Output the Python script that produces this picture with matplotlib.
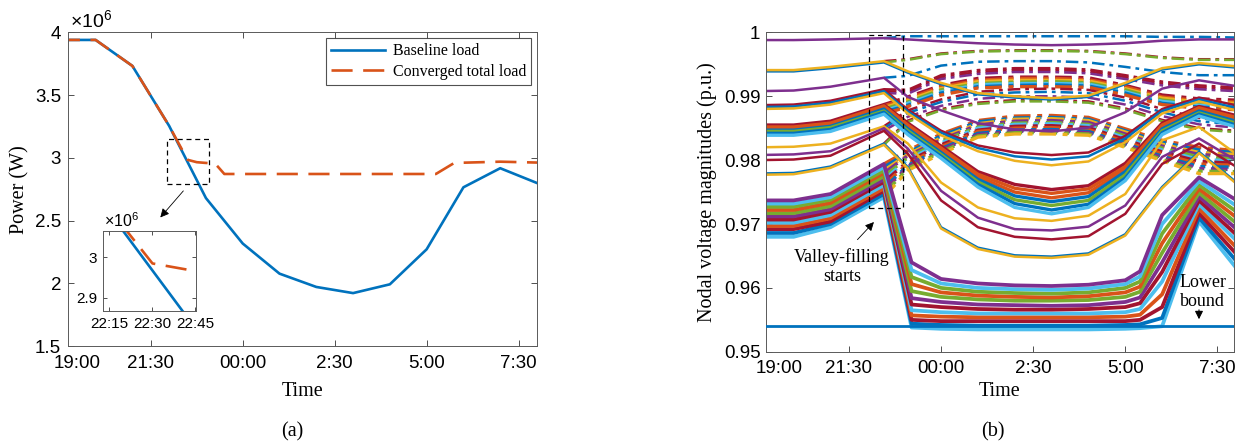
import matplotlib
matplotlib.use('Agg')
import matplotlib.pyplot as plt
from matplotlib.patches import Rectangle

# ---------------- panel (a) data (power, x1e6 W; time = hours after 19:00) ----------------
t_base = [0, 1, 2, 3, 4, 5, 6, 7, 8, 9, 10, 11, 12, 13]
baseline_load = [3.94, 3.94, 3.733, 3.255, 2.68, 2.318, 2.078, 1.972, 1.923, 1.993, 2.272, 2.766, 2.918, 2.80]
t_conv = [0, 1, 2, 3, 3.5, 3.75, 4, 4.25, 4.5, 10.25, 10.75, 12, 13]
converged_load = [3.94, 3.94, 3.733, 3.255, 2.985, 2.966, 2.96, 2.955, 2.872, 2.872, 2.96, 2.97, 2.963]
main_tick_pos = [2.5, 5, 7.5, 10, 12.5]
main_tick_labels = ['21:30', '00:00', '2:30', '5:00', '7:30']
first_label = '19:00'
inset_tick_pos = [3.25, 3.5, 3.75]
inset_tick_labels = ['22:15', '22:30', '22:45']
power_ticks = [1.5, 2, 2.5, 3, 3.5, 4]
power_tick_labels = ['1.5', '2', '2.5', '3', '3.5', '4']

# ---------------- panel (b) data (voltage, p.u.) ----------------
t_sol = [0, 1, 2, 3.45, 4.1, 5, 6, 7, 8, 9, 10, 11, 12, 13]
sol_A = [0.9988, 0.9988, 0.9989, 0.9991, 0.9989, 0.9986, 0.9983, 0.9981, 0.9980, 0.9981, 0.9983, 0.9987, 0.9989, 0.9989]
sol_B = [[0.9939, 0.9939, 0.9944, 0.9953, 0.9937, 0.9919, 0.9903, 0.9898, 0.9895, 0.9899, 0.9919, 0.9942, 0.9950, 0.9945],
         [0.9941, 0.9941, 0.9946, 0.9955, 0.9939, 0.9921, 0.9905, 0.9900, 0.9897, 0.9901, 0.9921, 0.9944, 0.9952, 0.9947]]
sol_C = [0.9908, 0.9909, 0.9915, 0.9929, 0.9899, 0.9878, 0.9858, 0.9848, 0.9845, 0.9851, 0.9875, 0.9912, 0.9925, 0.9916]
sol_D = [[0.9886, 0.9887, 0.9893, 0.9911, 0.9879, 0.9846, 0.9823, 0.9812, 0.9808, 0.9812, 0.9838, 0.9880, 0.9898, 0.9886],
         [0.9883, 0.9884, 0.9890, 0.9908, 0.9876, 0.9843, 0.9819, 0.9806, 0.9801, 0.9806, 0.9834, 0.9877, 0.9895, 0.9882],
         [0.9880, 0.9881, 0.9887, 0.9905, 0.9873, 0.9839, 0.9814, 0.9799, 0.9792, 0.9798, 0.9828, 0.9873, 0.9892, 0.9878]]
sol_E = [[0.9855, 0.9855, 0.9861, 0.9887, 0.9858, 0.9822, 0.9782, 0.9762, 0.9754, 0.9760, 0.9795, 0.9858, 0.9884, 0.9870],
         [0.9852, 0.9852, 0.9858, 0.9885, 0.9855, 0.9819, 0.9778, 0.9756, 0.9748, 0.9755, 0.9790, 0.9855, 0.9882, 0.9867],
         [0.9850, 0.9850, 0.9856, 0.9882, 0.9852, 0.9816, 0.9774, 0.9750, 0.9741, 0.9749, 0.9786, 0.9852, 0.9879, 0.9864],
         [0.9847, 0.9847, 0.9853, 0.9880, 0.9849, 0.9812, 0.9770, 0.9744, 0.9735, 0.9743, 0.9782, 0.9849, 0.9877, 0.9861],
         [0.9845, 0.9845, 0.9851, 0.9877, 0.9846, 0.9809, 0.9766, 0.9738, 0.9729, 0.9737, 0.9777, 0.9846, 0.9874, 0.9858],
         [0.9842, 0.9842, 0.9848, 0.9875, 0.9843, 0.9806, 0.9762, 0.9732, 0.9722, 0.9731, 0.9772, 0.9843, 0.9872, 0.9855],
         [0.9839, 0.9839, 0.9845, 0.9872, 0.9840, 0.9803, 0.9758, 0.9726, 0.9716, 0.9726, 0.9768, 0.9840, 0.9869, 0.9852]]
sol_F = [0.9820, 0.9821, 0.9826, 0.9853, 0.9826, 0.9765, 0.9726, 0.9709, 0.9705, 0.9713, 0.9747, 0.9831, 0.9852, 0.9810]
sol_G = [0.9808, 0.9809, 0.9814, 0.9850, 0.9818, 0.9752, 0.9710, 0.9692, 0.9690, 0.9696, 0.9729, 0.9805, 0.9834, 0.9800]
sol_H = [0.9800, 0.9801, 0.9807, 0.9846, 0.9810, 0.9737, 0.9695, 0.9680, 0.9676, 0.9681, 0.9716, 0.9794, 0.9826, 0.9790]
sol_I = [[0.9779, 0.9780, 0.9790, 0.9826, 0.9789, 0.9695, 0.9663, 0.9651, 0.9649, 0.9654, 0.9684, 0.9758, 0.9813, 0.9766],
         [0.9777, 0.9778, 0.9788, 0.9824, 0.9787, 0.9693, 0.9661, 0.9649, 0.9647, 0.9652, 0.9682, 0.9756, 0.9811, 0.9764]]

t_low = [0, 1, 2, 3.45, 4.2, 5, 6, 7, 8, 9, 10, 10.4, 11, 12, 13]
sol_J = [[0.9737, 0.9737, 0.9747, 0.9794, 0.9640, 0.9614, 0.9607, 0.9604, 0.9603, 0.9605, 0.9612, 0.9626, 0.9714, 0.9773, 0.9738],
         [0.9732, 0.9732, 0.9742, 0.9789, 0.9628, 0.9607, 0.9600, 0.9598, 0.9597, 0.9599, 0.9606, 0.9618, 0.9700, 0.9767, 0.9729],
         [0.9727, 0.9727, 0.9738, 0.9784, 0.9617, 0.9600, 0.9594, 0.9592, 0.9591, 0.9593, 0.9600, 0.9610, 0.9685, 0.9761, 0.9720],
         [0.9722, 0.9722, 0.9733, 0.9780, 0.9606, 0.9593, 0.9588, 0.9586, 0.9585, 0.9587, 0.9593, 0.9602, 0.9670, 0.9755, 0.9711],
         [0.9717, 0.9717, 0.9728, 0.9775, 0.9595, 0.9586, 0.9582, 0.9580, 0.9580, 0.9581, 0.9586, 0.9594, 0.9655, 0.9749, 0.9702],
         [0.9712, 0.9712, 0.9723, 0.9770, 0.9584, 0.9578, 0.9574, 0.9573, 0.9572, 0.9573, 0.9578, 0.9585, 0.9640, 0.9743, 0.9693],
         [0.9707, 0.9707, 0.9719, 0.9766, 0.9574, 0.9570, 0.9567, 0.9566, 0.9566, 0.9567, 0.9570, 0.9576, 0.9625, 0.9737, 0.9684],
         [0.9702, 0.9702, 0.9714, 0.9761, 0.9565, 0.9562, 0.9560, 0.9560, 0.9560, 0.9560, 0.9562, 0.9567, 0.9610, 0.9731, 0.9675],
         [0.9697, 0.9697, 0.9709, 0.9756, 0.9557, 0.9555, 0.9554, 0.9554, 0.9554, 0.9554, 0.9555, 0.9558, 0.9590, 0.9724, 0.9664],
         [0.9692, 0.9692, 0.9704, 0.9752, 0.9550, 0.9548, 0.9548, 0.9548, 0.9548, 0.9548, 0.9548, 0.9550, 0.9570, 0.9717, 0.9654],
         [0.9686, 0.9686, 0.9700, 0.9747, 0.9544, 0.9542, 0.9541, 0.9541, 0.9541, 0.9541, 0.9542, 0.9543, 0.9553, 0.9710, 0.9643],
         [0.9680, 0.9680, 0.9695, 0.9742, 0.9538, 0.9536, 0.9535, 0.9535, 0.9535, 0.9535, 0.9536, 0.9537, 0.9540, 0.9704, 0.9632]]

# dash-dot (baseline-load) voltages after valley filling starts
t_dd = [3.45, 4.1, 5, 6, 7, 8, 9, 10, 11, 12, 13]
dd_A = [0.9991, 0.9994, 0.9994, 0.9994, 0.9994, 0.9994, 0.9994, 0.9994, 0.9993, 0.9993, 0.9992]
dd_B = [[0.9955, 0.9958, 0.9967, 0.9971, 0.9972, 0.9972, 0.9971, 0.9967, 0.9961, 0.9958, 0.9958],
        [0.9953, 0.9957, 0.9966, 0.9970, 0.9971, 0.9971, 0.9970, 0.9966, 0.9960, 0.9957, 0.9957]]
dd_C = [0.9929, 0.9932, 0.9948, 0.9954, 0.9955, 0.9955, 0.9953, 0.9946, 0.9938, 0.9933, 0.9933]
dd_D = [[0.9911, 0.9910, 0.9933, 0.9941, 0.9944, 0.9944, 0.9942, 0.9933, 0.9923, 0.9917, 0.9914],
        [0.9908, 0.9907, 0.9930, 0.9938, 0.9941, 0.9941, 0.9939, 0.9930, 0.9920, 0.9914, 0.9911],
        [0.9905, 0.9904, 0.9927, 0.9935, 0.9938, 0.9938, 0.9936, 0.9927, 0.9917, 0.9911, 0.9908]]
dd_E = [[0.9887, 0.9899, 0.9917, 0.9928, 0.9930, 0.9930, 0.9929, 0.9917, 0.9902, 0.9896, 0.9894],
        [0.9885, 0.9896, 0.9915, 0.9925, 0.9928, 0.9928, 0.9926, 0.9915, 0.9899, 0.9893, 0.9891],
        [0.9882, 0.9894, 0.9912, 0.9923, 0.9925, 0.9925, 0.9924, 0.9912, 0.9897, 0.9891, 0.9889],
        [0.9880, 0.9891, 0.9910, 0.9920, 0.9922, 0.9923, 0.9921, 0.9910, 0.9894, 0.9888, 0.9886],
        [0.9877, 0.9889, 0.9907, 0.9918, 0.9920, 0.9920, 0.9919, 0.9907, 0.9892, 0.9886, 0.9884],
        [0.9875, 0.9886, 0.9905, 0.9915, 0.9917, 0.9918, 0.9916, 0.9905, 0.9889, 0.9883, 0.9881],
        [0.9872, 0.9884, 0.9902, 0.9913, 0.9915, 0.9915, 0.9914, 0.9902, 0.9887, 0.9881, 0.9879]]
dd_FI = [[0.9853, 0.9878, 0.9895, 0.9907, 0.9911, 0.9912, 0.9910, 0.9898, 0.9880, 0.9866, 0.9860],
         [0.9850, 0.9874, 0.9891, 0.9903, 0.9906, 0.9907, 0.9905, 0.9893, 0.9875, 0.9861, 0.9856],
         [0.9846, 0.9868, 0.9885, 0.9896, 0.9900, 0.9900, 0.9898, 0.9887, 0.9869, 0.9856, 0.9851],
         [0.9826, 0.9862, 0.9880, 0.9890, 0.9894, 0.9894, 0.9892, 0.9881, 0.9863, 0.9850, 0.9846],
         [0.9824, 0.9860, 0.9878, 0.9888, 0.9892, 0.9892, 0.9890, 0.9879, 0.9861, 0.9848, 0.9844]]
dd_J = [[0.9794, 0.9815, 0.9841, 0.9862, 0.9869, 0.9870, 0.9867, 0.9849, 0.9831, 0.9820, 0.9815],
        [0.9789, 0.9812, 0.9838, 0.9860, 0.9866, 0.9867, 0.9864, 0.9846, 0.9828, 0.9816, 0.9812],
        [0.9784, 0.9809, 0.9835, 0.9857, 0.9864, 0.9865, 0.9862, 0.9844, 0.9825, 0.9812, 0.9809],
        [0.9780, 0.9807, 0.9832, 0.9855, 0.9861, 0.9862, 0.9859, 0.9841, 0.9822, 0.9809, 0.9805],
        [0.9775, 0.9804, 0.9830, 0.9852, 0.9858, 0.9859, 0.9856, 0.9838, 0.9819, 0.9805, 0.9802],
        [0.9770, 0.9801, 0.9827, 0.9850, 0.9856, 0.9857, 0.9854, 0.9835, 0.9816, 0.9801, 0.9799],
        [0.9766, 0.9798, 0.9824, 0.9847, 0.9853, 0.9854, 0.9851, 0.9832, 0.9813, 0.9798, 0.9795],
        [0.9761, 0.9795, 0.9821, 0.9845, 0.9850, 0.9851, 0.9848, 0.9829, 0.9810, 0.9794, 0.9792],
        [0.9756, 0.9792, 0.9818, 0.9842, 0.9847, 0.9848, 0.9845, 0.9826, 0.9806, 0.9790, 0.9789],
        [0.9752, 0.9790, 0.9816, 0.9840, 0.9845, 0.9846, 0.9843, 0.9824, 0.9804, 0.9787, 0.9785],
        [0.9747, 0.9787, 0.9813, 0.9838, 0.9843, 0.9843, 0.9841, 0.9822, 0.9801, 0.9783, 0.9782],
        [0.9742, 0.9784, 0.9810, 0.9836, 0.9841, 0.9841, 0.9839, 0.9820, 0.9799, 0.9779, 0.9779]]
lower_bound = 0.954
volt_ticks = [0.95, 0.96, 0.97, 0.98, 0.99, 1.0]
volt_tick_labels = ['0.95', '0.96', '0.97', '0.98', '0.99', '1']

# ---------------- style ----------------
BLUE, ORANGE, YELLOW, PURPLE = '#0072BD', '#D95319', '#EDB120', '#7E2F8E'
GREEN, LBLUE, DRED = '#77AC30', '#4DBEEE', '#A2142F'
plt.rcParams['font.family'] = ['Liberation Sans', 'DejaVu Sans']
plt.rcParams['mathtext.fontset'] = 'custom'
plt.rcParams['mathtext.rm'] = 'Liberation Sans'
SERIF = ['Liberation Serif', 'DejaVu Serif']
TICK_FS = 13.5

W, H = 1236, 445
fig = plt.figure(figsize=(W / 100, H / 100), dpi=100)


def rect(l, t, r, b):
    return [l / W, 1 - b / H, (r - l) / W, (b - t) / H]


def style(ax, size=TICK_FS, pad=5, length=4):
    ax.tick_params(which='both', direction='in', top=True, right=True, length=length,
                   width=0.6, color='0.2', labelsize=size, labelcolor='black', pad=pad)
    for s in ax.spines.values():
        s.set_linewidth(0.7)
        s.set_color('0.35')


# ---------------- panel (a) ----------------
ax1 = fig.add_axes(rect(68, 32.4, 537, 346.2))
ax1.plot(t_base, baseline_load, color=BLUE, lw=1.9, label='Baseline load')
ax1.plot(t_conv, converged_load, color=ORANGE, lw=1.9, dashes=(8, 4), label='Converged total load')
ax1.set_xlim(0.25, 13)
ax1.set_ylim(1.5, 4)
ax1.set_xticks(main_tick_pos)
ax1.set_xticklabels(main_tick_labels)
ax1.set_xticks([0.5], minor=True)
ax1.set_xticklabels([first_label], minor=True)
ax1.set_yticks(power_ticks)
ax1.set_yticklabels(power_tick_labels)
style(ax1)
ax1.tick_params(axis='x', which='both', pad=6)
ax1.tick_params(axis='x', which='minor', length=0)
ax1.set_xlabel('Time', family=SERIF, fontsize=14.5)
ax1.xaxis.set_label_coords(0.5, -(391 - 346.2) / 313.8)
ax1.xaxis.label.set_va('center')
ax1.set_ylabel('Power (W)', family=SERIF, fontsize=14.5)
ax1.yaxis.set_label_coords((19.5 - 68) / 469, 0.5)
ax1.yaxis.label.set_va('center')
leg = ax1.legend(loc='upper right', bbox_to_anchor=(1 - 6 / 469, 1 - 6 / 313.8), borderaxespad=0,
                 prop={'family': SERIF, 'size': 11.5}, fancybox=False, edgecolor='0.15',
                 handlelength=3.4, handletextpad=0.5, borderpad=0.3, labelspacing=0.3)
leg.get_frame().set_linewidth(0.8)
ax1.add_patch(Rectangle((2.94, 2.789), 1.14, 0.358, fill=False, ls=(0, (4, 3)), lw=0.9, ec='k', zorder=5))
ax1.annotate('', xy=(2.71, 2.509), xytext=(3.435, 2.754),
             arrowprops=dict(arrowstyle='-|>', color='k', lw=0.6, mutation_scale=13))
fig.text(70 / W, 1 - 28 / H, r'$\times10^{6}$', fontsize=14, va='baseline')

axi = fig.add_axes(rect(102.9, 230.8, 196, 311))
axi.plot(t_base, baseline_load, color=BLUE, lw=1.9)
axi.plot(t_conv, converged_load, color=ORANGE, lw=1.9, dashes=(8, 4))
axi.set_xlim(3.212, 3.753)
axi.set_ylim(2.867, 3.066)
axi.set_xticks(inset_tick_pos)
axi.set_xticklabels(inset_tick_labels)
axi.set_yticks([2.9, 3.0])
axi.set_yticklabels(['2.9', '3'])
style(axi, size=11, pad=4, length=3)
fig.text(104 / W, 1 - 227 / H, r'$\times10^{6}$', fontsize=11.5, va='baseline')

fig.text(292 / W, 1 - 432 / H, '(a)', family=SERIF, fontsize=14.5, ha='center', va='center')

# ---------------- panel (b) ----------------
ax2 = fig.add_axes(rect(766, 32.4, 1234, 351.8))
DD = (5, 2, 1.5, 2)
LW = 1.8
LWB = 2.4
dd_groups = [([dd_A], [BLUE], LW), (dd_B, [DRED, GREEN], LW), ([dd_C], [BLUE], LW),
             (dd_D, [DRED, DRED, PURPLE], LW),
             (dd_E, [DRED, ORANGE, YELLOW, GREEN, LBLUE, BLUE, ORANGE], LWB),
             (dd_FI, [DRED, BLUE, PURPLE, DRED, GREEN], LW),
             (dd_J, [ORANGE, BLUE, YELLOW, PURPLE, GREEN, LBLUE, DRED, ORANGE, BLUE, PURPLE, GREEN, YELLOW], LWB)]
for rows, cols, lw in dd_groups:
    for r, c in zip(rows, cols):
        ax2.plot(t_dd, r, color=c, lw=lw, dashes=DD, zorder=1)

sol_groups = [([sol_A], [PURPLE], LW), (sol_B, [BLUE, YELLOW], LW), ([sol_C], [PURPLE], LW),
              (sol_D, [DRED, BLUE, YELLOW], LW),
              (sol_E, [DRED, ORANGE, ORANGE, BLUE, GREEN, BLUE, LBLUE], LWB),
              ([sol_F], [YELLOW], LW), ([sol_G], [PURPLE], LW), ([sol_H], [DRED], LW),
              (sol_I, [BLUE, YELLOW], LW)]
for rows, cols, lw in sol_groups:
    for r, c in zip(rows, cols):
        ax2.plot(t_sol, r, color=c, lw=lw, zorder=2)
J_cols = [PURPLE, LBLUE, GREEN, ORANGE, GREEN, PURPLE, DRED, LBLUE, ORANGE, DRED, BLUE, LBLUE]
for r, c in zip(sol_J[::-1], J_cols[::-1]):
    ax2.plot(t_low, r, color=c, lw=2.7, zorder=2)
ax2.axhline(lower_bound, color=BLUE, lw=2.0, zorder=3)

ax2.set_xlim(0.25, 12.95)
ax2.set_ylim(0.95, 1.0)
ax2.set_xticks(main_tick_pos)
ax2.set_xticklabels(main_tick_labels)
ax2.set_xticks([0.6], minor=True)
ax2.set_xticklabels([first_label], minor=True)
ax2.set_yticks(volt_ticks)
ax2.set_yticklabels(volt_tick_labels)
style(ax2, pad=4)
ax2.tick_params(axis='x', which='both', pad=6)
ax2.tick_params(axis='x', which='minor', length=0)
ax2.set_xlabel('Time', family=SERIF, fontsize=14.5)
ax2.xaxis.set_label_coords(0.5, -(392 - 351.8) / 319.4)
ax2.xaxis.label.set_va('center')
ax2.set_ylabel('Nodal voltage magnitudes (p.u.)', family=SERIF, fontsize=14.5)
ax2.yaxis.set_label_coords((706.7 - 766) / 468, 0.5)
ax2.yaxis.label.set_va('center')

ax2.add_patch(Rectangle((3.05, 0.97256), 0.93, 0.0271, fill=False, ls=(0, (4, 3)), lw=0.9, ec='k', zorder=5))
ax2.annotate('', xy=(3.23, 0.97063), xytext=(2.68, 0.96724),
             arrowprops=dict(arrowstyle='-|>', color='k', lw=0.6, mutation_scale=13), zorder=6)
ax2.text(2.31, 0.96332, 'Valley-filling\nstarts', family=SERIF, fontsize=13, ha='center', va='center',
         linespacing=1.15, zorder=6)
ax2.text(12.1, 0.95941, 'Lower\nbound', family=SERIF, fontsize=13, ha='center', va='center',
         linespacing=1.15, zorder=6)
ax2.annotate('', xy=(12.0, 0.95466), xytext=(12.0, 0.9570),
             arrowprops=dict(arrowstyle='-|>', color='k', lw=0.8, mutation_scale=12), zorder=6)

fig.text(993 / W, 1 - 432 / H, '(b)', family=SERIF, fontsize=14.5, ha='center', va='center')

fig.savefig('out.png', dpi=100, facecolor='white')
